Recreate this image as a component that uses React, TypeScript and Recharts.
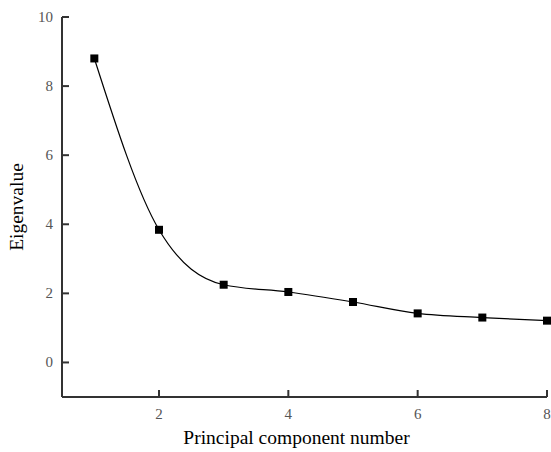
import { LineChart, Line, XAxis, YAxis, Label } from "recharts";

const components = [1, 2, 3, 4, 5, 6, 7, 8];
const eigenvalues = [8.8, 3.84, 2.25, 2.04, 1.75, 1.42, 1.3, 1.21];
const xTicks = [2, 4, 6, 8];
const yTicks = [0, 2, 4, 6, 8, 10];

const data = components.map((c, i) => ({ pc: c, value: eigenvalues[i] }));

const FONT = "Liberation Serif, serif";
const axisStyle = { stroke: "#333", strokeWidth: 2 };

function SquareDot(props: any) {
  const { cx, cy } = props;
  if (cx == null || cy == null) return null;
  return <rect x={cx - 4} y={cy - 4} width={8} height={8} fill="#000" />;
}

function XTick(props: any) {
  const { x, y, payload } = props;
  return (
    <text x={x} y={y + 11} textAnchor="middle" fill="#555" fontSize={15} fontFamily={FONT}>
      {payload.value}
    </text>
  );
}

function YTick(props: any) {
  const { x, y, payload } = props;
  return (
    <text x={x} y={y + 5} textAnchor="end" fill="#555" fontSize={15} fontFamily={FONT}>
      {payload.value}
    </text>
  );
}

export default function App() {
  return (
    <div style={{ position: "absolute", left: 0, top: 0, width: 551, height: 452, background: "#fff" }}>
      <LineChart width={551} height={452} data={data} margin={{ top: 17, right: 4, bottom: 0, left: 0 }}>
        <XAxis
          dataKey="pc"
          type="number"
          domain={[0.5, 8]}
          ticks={xTicks}
          height={55}
          tickSize={-7}
          tickMargin={18}
          axisLine={axisStyle}
          tickLine={axisStyle}
          tick={<XTick />}
        >
          <Label
            value="Principal component number"
            position="insideBottom"
            offset={8}
            dx={-8}
            style={{ fill: "#000", fontSize: 19.5, fontFamily: FONT }}
          />
        </XAxis>
        <YAxis
          type="number"
          domain={[-1, 10]}
          ticks={yTicks}
          width={62}
          tickSize={-7}
          tickMargin={16}
          axisLine={axisStyle}
          tickLine={axisStyle}
          tick={<YTick />}
        >
          <Label
            value="Eigenvalue"
            angle={-90}
            position="insideLeft"
            offset={16}
            style={{ fill: "#000", fontSize: 19.5, fontFamily: FONT, textAnchor: "middle" }}
          />
        </YAxis>
        <Line
          type="monotone"
          dataKey="value"
          stroke="#000"
          strokeWidth={1.2}
          dot={<SquareDot />}
          activeDot={false}
          isAnimationActive={false}
        />
      </LineChart>
    </div>
  );
}
